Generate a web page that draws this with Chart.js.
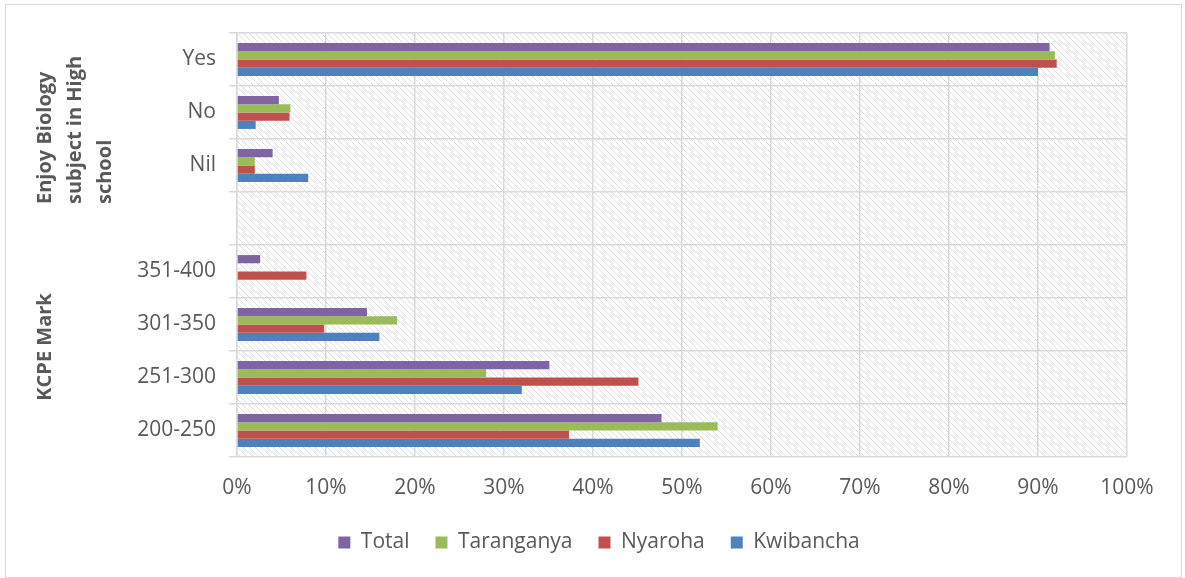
<!DOCTYPE html>
<html>
<head>
<meta charset="utf-8">
<script src="https://cdn.jsdelivr.net/npm/chart.js@4.4.1/dist/chart.umd.min.js"></script>
<style>
  html, body { margin: 0; padding: 0; background: #fff; overflow: hidden; }
  #wrap { width: 1185px; height: 578px; position: relative; }
</style>
</head>
<body>
<div id="wrap"><canvas id="chart"></canvas></div>
<script>
// categories top to bottom (blank row separates the two groups)
const categories = ['Yes', 'No', 'Nil', '', '351-400', '301-350', '251-300', '200-250'];

// percentages
const total      = [91.3, 4.7, 4.0, null, 2.6, 14.6, 35.1, 47.7];
const taranganya = [91.9, 6.0, 2.0, null, 0, 18.0, 28.0, 54.0];
const nyaroha    = [92.1, 5.9, 2.0, null, 7.8, 9.8, 45.1, 37.3];
const kwibancha  = [90.0, 2.1, 8.0, null, 0, 16.0, 32.0, 52.0];

const groupLabels = [
    { lines: ['Enjoy Biology', 'subject in High', 'school'], from: 0, to: 3 },
    { lines: ['KCPE Mark'], from: 4, to: 7 }
];

const textColor = '#595959';
const gridColor = '#d9d9d9';
const fontName = '"Open Sans"';

// diagonal hatch for the plot area
function makeHatch() {
    const c = document.createElement('canvas');
    c.width = 6; c.height = 6;
    const g = c.getContext('2d');
    g.fillStyle = '#fff';
    g.fillRect(0, 0, 6, 6);
    g.strokeStyle = '#dedede';
    g.lineWidth = 1;
    g.beginPath();
    g.moveTo(-1, -1); g.lineTo(7, 7);
    g.moveTo(-1, 5); g.lineTo(1, 7);
    g.moveTo(5, -1); g.lineTo(7, 1);
    g.stroke();
    return c;
}

const hatchPlugin = {
    id: 'hatch',
    beforeDraw(chart) {
        const { ctx, chartArea: a } = chart;
        // centre the legend on the whole page, not just left of the right padding
        chart.legend.left = 71;
        ctx.save();
        ctx.fillStyle = ctx.createPattern(makeHatch(), 'repeat');
        ctx.fillRect(a.left, a.top, a.right - a.left, a.bottom - a.top);
        ctx.restore();
    },
    afterDraw(chart) {
        const ctx = chart.ctx;
        const y = chart.scales.y;
        ctx.save();
        // outer frame
        ctx.strokeStyle = gridColor;
        ctx.lineWidth = 1;
        ctx.strokeRect(5.5, 4.5, chart.width - 9, chart.height - 5);
        // rotated group labels
        ctx.fillStyle = textColor;
        ctx.font = 'bold 20px ' + fontName;
        ctx.textBaseline = 'middle';
        groupLabels.forEach((g, gi) => {
            const y0 = y.getPixelForTick(g.from);
            const y1 = y.getPixelForTick(g.to);
            const mid = (y0 + y1) / 2;
            g.lines.forEach((line, i) => {
                ctx.save();
                ctx.translate(45 + i * 30, gi === 0 ? mid + 65 : mid - 4);
                ctx.rotate(-Math.PI / 2);
                ctx.textAlign = gi === 0 ? 'left' : 'center';
                ctx.fillText(line, 0, 0);
                ctx.restore();
            });
        });
        ctx.restore();
    }
};

new Chart(document.getElementById('chart'), {
    type: 'bar',
    data: {
        labels: categories,
        datasets: [
            { label: 'Total', data: total, backgroundColor: '#8064A2' },
            { label: 'Taranganya', data: taranganya, backgroundColor: '#9BBB59' },
            { label: 'Nyaroha', data: nyaroha, backgroundColor: '#C0504D' },
            { label: 'Kwibancha', data: kwibancha, backgroundColor: '#4F81BD' }
        ]
    },
    options: {
        indexAxis: 'y',
        responsive: true,
        maintainAspectRatio: false,
        animation: false,
        categoryPercentage: 0.62,
        barPercentage: 1.0,
        layout: { padding: { top: 33, right: 58, bottom: 15, left: 0 } },
        scales: {
            x: {
                min: 0,
                max: 100,
                ticks: {
                    stepSize: 10,
                    padding: 18,
                    color: textColor,
                    font: { family: fontName, size: 21 },
                    callback: v => v + '%'
                },
                grid: { color: gridColor, lineWidth: 1.5, drawTicks: false },
                border: { display: false },
                afterFit(scale) { scale.height = 49; }
            },
            y: {
                ticks: {
                    padding: 13,
                    color: textColor,
                    font: { family: fontName, size: 21 }
                },
                grid: { color: gridColor, lineWidth: 1.5, tickLength: 8, offset: true },
                border: { color: gridColor, width: 1.5 },
                afterFit(scale) { scale.width = 237; }
            }
        },
        plugins: {
            legend: {
                position: 'bottom',
                labels: {
                    boxWidth: 12,
                    boxHeight: 12,
                    padding: 26,
                    color: textColor,
                    font: { family: fontName, size: 21 }
                }
            },
            tooltip: { enabled: false }
        }
    },
    plugins: [hatchPlugin]
});
</script>
</body>
</html>
